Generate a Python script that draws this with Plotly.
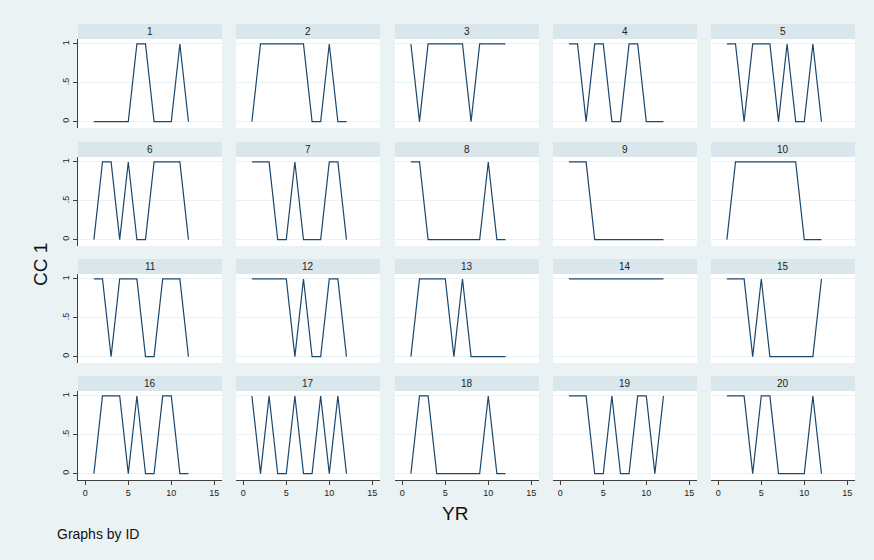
import plotly.graph_objects as go

# ---- data ----
years = [1, 2, 3, 4, 5, 6, 7, 8, 9, 10, 11, 12]
ids = [str(i) for i in range(1, 21)]
cc1_id01 = [0, 0, 0, 0, 0, 1, 1, 0, 0, 0, 1, 0]
cc1_id02 = [0, 1, 1, 1, 1, 1, 1, 0, 0, 1, 0, 0]
cc1_id03 = [1, 0, 1, 1, 1, 1, 1, 0, 1, 1, 1, 1]
cc1_id04 = [1, 1, 0, 1, 1, 0, 0, 1, 1, 0, 0, 0]
cc1_id05 = [1, 1, 0, 1, 1, 1, 0, 1, 0, 0, 1, 0]
cc1_id06 = [0, 1, 1, 0, 1, 0, 0, 1, 1, 1, 1, 0]
cc1_id07 = [1, 1, 1, 0, 0, 1, 0, 0, 0, 1, 1, 0]
cc1_id08 = [1, 1, 0, 0, 0, 0, 0, 0, 0, 1, 0, 0]
cc1_id09 = [1, 1, 1, 0, 0, 0, 0, 0, 0, 0, 0, 0]
cc1_id10 = [0, 1, 1, 1, 1, 1, 1, 1, 1, 0, 0, 0]
cc1_id11 = [1, 1, 0, 1, 1, 1, 0, 0, 1, 1, 1, 0]
cc1_id12 = [1, 1, 1, 1, 1, 0, 1, 0, 0, 1, 1, 0]
cc1_id13 = [0, 1, 1, 1, 1, 0, 1, 0, 0, 0, 0, 0]
cc1_id14 = [1, 1, 1, 1, 1, 1, 1, 1, 1, 1, 1, 1]
cc1_id15 = [1, 1, 1, 0, 1, 0, 0, 0, 0, 0, 0, 1]
cc1_id16 = [0, 1, 1, 1, 0, 1, 0, 0, 1, 1, 0, 0]
cc1_id17 = [1, 0, 1, 0, 0, 1, 0, 0, 1, 0, 1, 0]
cc1_id18 = [0, 1, 1, 0, 0, 0, 0, 0, 0, 1, 0, 0]
cc1_id19 = [1, 1, 1, 0, 0, 1, 0, 0, 1, 1, 0, 1]
cc1_id20 = [1, 1, 1, 0, 1, 1, 0, 0, 0, 0, 1, 0]
series = [cc1_id01, cc1_id02, cc1_id03, cc1_id04, cc1_id05,
          cc1_id06, cc1_id07, cc1_id08, cc1_id09, cc1_id10,
          cc1_id11, cc1_id12, cc1_id13, cc1_id14, cc1_id15,
          cc1_id16, cc1_id17, cc1_id18, cc1_id19, cc1_id20]
x_ticks = [0, 5, 10, 15]
y_ticks = [0, 0.5, 1]
y_ticklabels = ["0", ".5", "1"]

# ---- layout geometry (pixels in the browser window) ----
OX, OY = 8, 8            # page body margin offset
W, H = 874 - OX, 560 - OY  # figure size
col_left = [78, 236, 395, 553, 711]
panel_w = 144
strip_top = [24, 142, 259, 376]
strip_h = 15
plot_h = 89

BG = "#eaf2f3"
STRIP = "#d9e6eb"
LINE = "#1a476f"
AXIS = "#404040"
FONT = "Liberation Sans, Arial, sans-serif"


def px(x):
    return (x - OX) / W


def py(y):
    return 1 - (y - OY) / H


fig = go.Figure()
layout = dict(
    width=W, height=H,
    margin=dict(l=0, r=0, t=0, b=0),
    paper_bgcolor=BG, plot_bgcolor="white",
    showlegend=False,
    font=dict(family=FONT, color="#222"),
)
shapes = []
annotations = []

for k, vals in enumerate(series):
    r, c = divmod(k, 5)
    n = "" if k == 0 else str(k + 1)
    x0 = col_left[c]
    x1 = x0 + panel_w
    ptop = strip_top[r] + strip_h
    pbot = ptop + plot_h
    fig.add_trace(go.Scatter(
        x=years, y=vals, mode="lines",
        line=dict(color=LINE, width=1.2),
        xaxis="x" + n, yaxis="y" + n, hoverinfo="x+y",
    ))
    bottom = (r == 3)
    left = (c == 0)
    layout["xaxis" + n] = dict(
        domain=[px(x0), px(x1)], anchor="y" + n,
        range=[-0.85, 15.9], showgrid=False, zeroline=False,
        tickvals=x_ticks, showticklabels=bottom,
        ticks="outside" if bottom else "", ticklen=4, tickcolor=AXIS,
        showline=bottom, linecolor=AXIS, linewidth=1,
        tickfont=dict(size=9, family=FONT, color="#222"),
    )
    layout["yaxis" + n] = dict(
        domain=[py(pbot), py(ptop)], anchor="x" + n,
        range=[-0.083, 1.064], zeroline=False,
        showgrid=True, gridcolor=BG, gridwidth=1,
        tickvals=y_ticks, ticktext=y_ticklabels,
        showticklabels=left, tickangle=-90,
        ticks="outside" if left else "", ticklen=4, tickcolor=AXIS,
        showline=left, linecolor=AXIS, linewidth=1,
        tickfont=dict(size=9, family=FONT, color="#222"),
    )
    # strip header
    shapes.append(dict(
        type="rect", xref="paper", yref="paper",
        x0=px(x0), x1=px(x1),
        y0=py(strip_top[r] + strip_h), y1=py(strip_top[r]),
        fillcolor=STRIP, line=dict(width=0), layer="below",
    ))
    annotations.append(dict(
        text=ids[k], xref="paper", yref="paper",
        x=px((x0 + x1) / 2), y=py(strip_top[r] + strip_h / 2),
        showarrow=False, xanchor="center", yanchor="middle",
        font=dict(size=10, family=FONT, color="#222"),
    ))

annotations.append(dict(
    text="YR", xref="paper", yref="paper", x=px(455), y=py(513),
    showarrow=False, xanchor="center", yanchor="middle",
    font=dict(size=19, family=FONT, color="#111"),
))
annotations.append(dict(
    text="CC 1", xref="paper", yref="paper", x=px(40), y=py(265),
    showarrow=False, xanchor="center", yanchor="middle", textangle=-90,
    font=dict(size=19, family=FONT, color="#111"),
))
annotations.append(dict(
    text="Graphs by ID", xref="paper", yref="paper", x=px(55), y=py(534),
    showarrow=False, xanchor="left", yanchor="middle",
    font=dict(size=14, family=FONT, color="#111"),
))

layout["shapes"] = shapes
layout["annotations"] = annotations
fig.update_layout(**layout)
fig.write_html("out.html",
               post_script="document.body.style.background='#eaf2f3';")
